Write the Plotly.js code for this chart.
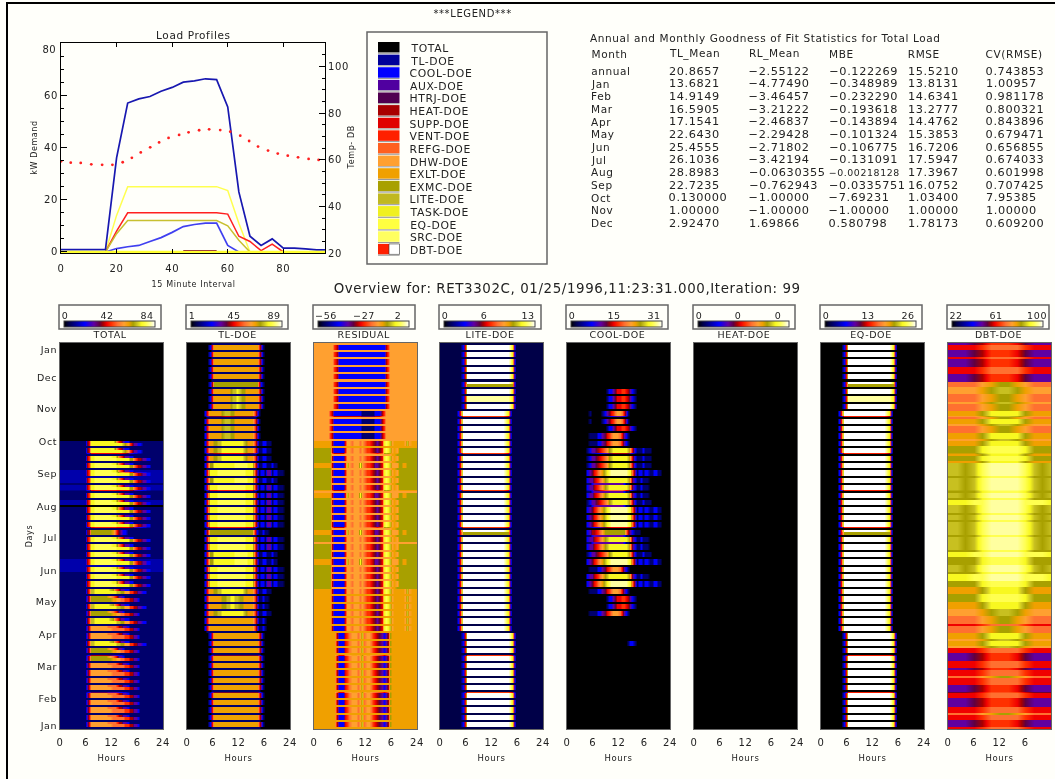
<!DOCTYPE html>
<html>
<head>
<meta charset="utf-8">
<script src="https://cdn.plot.ly/plotly-3.0.1.min.js"></script>
<style>
html,body{margin:0;padding:0;background:#fffffa;overflow:hidden}
#chart{filter:blur(0.35px)}
#chart svg text{letter-spacing:0.6px}
</style>
</head>
<body>
<div id="chart" style="width:1055px;height:779px"></div>
<script>
// ---------- load profile lines ----------
const hourlyX = [0,4,8,12,16,20,24,28,32,36,40,44,48,52,56,60,64,68,72,76,80,84,88,92,95];
const tlDoe   = [0.9,0.9,0.9,0.9,0.9,36,57,58.6,59.5,61.5,63,65,65.5,66.3,66,55.5,23,6,2.5,5,1.5,1.5,1.2,0.8,0.8];
const coolDoe = [0,0,0,0,0,1.3,2,2.5,4,5.5,7.5,9.7,10.5,11,11,2.5,0,0,0,0,0,0,0,0,0];
const eqDoe   = [0,0,0,0,0,14,25,25,25,25,25,25,25,25,25,23.5,11,0,0,0,0,0,0,0,0];
const ventDoe = [0,0,0,0,0,8,15,15,15,15,15,15,15,15,15,14.5,6,4,0.5,3,0,0,0,0,0];
const liteDoe = [0,0,0,0,0,7,12,12,12,12,12,12,12,12,12,10,4.5,0,0,0,0,0,0,0,0];
const heatX   = [44,56];
const heatDoe = [0.4,0.4];
const baseX   = [0,95];
const srcDoe  = [0,0];
const dbtX = [0,3.5,7.1,10.9,14.8,18.5,22.2,25.5,28.7,32.1,35.3,38.7,42.5,45.9,49.7,53.3,57.3,60.9,64.5,67.7,70.9,74.5,78,81.6,85.3,89.1,92.7];
const dbtDoe = [59.3,58.7,58.6,58,57.8,57.8,58.9,60.8,63.1,65.3,67.4,69.3,70.6,71.7,72.6,73,72.7,72,70.3,68,65.6,63.9,62.6,61.7,61,60.3,59.9];

// ---------- legend ----------
const legendNames = ['TOTAL','TL-DOE','COOL-DOE','AUX-DOE','HTRJ-DOE','HEAT-DOE','SUPP-DOE','VENT-DOE','REFG-DOE','DHW-DOE','EXLT-DOE','EXMC-DOE','LITE-DOE','TASK-DOE','EQ-DOE','SRC-DOE','DBT-DOE'];
const legendColors = ['#000000','#000099','#0000ff','#5000a0','#500050','#a80000','#e00000','#ff2000','#ff6020','#ffa030','#f0a000','#a8a000','#c0b820','#f0f020','#ffff40','#ffff60','#ff2000'];

// ---------- statistics table ----------
const monthRows = ['annual','Jan','Feb','Mar','Apr','May','Jun','Jul','Aug','Sep','Oct','Nov','Dec'];
const tlMean = ['20.8657','13.6821','14.9149','16.5905','17.1541','22.6430','25.4555','26.1036','28.8983','22.7235','0.130000','1.00000','2.92470'];
const rlMean = ['−2.55122','−4.77490','−3.46457','−3.21222','−2.46837','−2.29428','−2.71802','−3.42194','−0.0630355','−0.762943','−1.00000','−1.00000','1.69866'];
const mbe = ['−0.122269','−0.348989','−0.232290','−0.193618','−0.143894','−0.101324','−0.106775','−0.131091','−0.00218128','−0.0335751','−7.69231','−1.00000','0.580798'];
const rmse = ['15.5210','13.8131','14.6341','13.2777','14.4762','15.3853','16.7206','17.5947','17.3967','16.0752','1.03400','1.00000','1.78173'];
const cvRmse = ['0.743853','1.00957','0.981178','0.800321','0.843896','0.679471','0.656855','0.674033','0.601998','0.707425','7.95385','1.00000','0.609200'];

// ---------- heat map panels ----------
const panelNames = ['TOTAL','TL-DOE','RESIDUAL','LITE-DOE','COOL-DOE','HEAT-DOE','EQ-DOE','DBT-DOE'];
const barLow  = [0,1,-56,0,0,0,0,22];
const barMid  = [42,45,-27,6,15,0,13,61];
const barHigh = [84,89,2,13,31,0,26,100];
const barLabelOffsets = [[5,47,87],[4.7,47,87],[11.5,50,83.7],[5,44,87.7],[5,47,87],[5,43.7,83.7],[5,46.7,86.7],[7.7,48,89]];
const monthTicks = [2.8,28.4,58.6,88.9,120,149.4,180.6,209.9,241.1,271.4,302.6,331.9,358.4];
const monthLabels = ['Jan','Feb','Mar','Apr','May','Jun','Jul','Aug','Sep','Oct','Nov','Dec','Jan'];
const hourTicks = [0,6,12,18,24];
const hourLabels = ['0','6','12','6','24'];
const halfHours = [0.25,0.75,1.25,1.75,2.25,2.75,3.25,3.75,4.25,4.75,5.25,5.75,6.25,6.75,7.25,7.75,8.25,8.75,9.25,9.75,10.25,10.75,11.25,11.75,12.25,12.75,13.25,13.75,14.25,14.75,15.25,15.75,16.25,16.75,17.25,17.75,18.25,18.75,19.25,19.75,20.25,20.75,21.25,21.75,22.25,22.75,23.25,23.75];
const twoHours = [0,2,4,6,8,10,12,14,16,18,20,22,24];

// colour levels: 0 black ... g white
const levelSeq = ['0','n','1','m','2','3','4','5','6','7','8','9','a','b','c','d','e','f','g'];
const levelPos = [0,0.055,0.09,0.15,0.23,0.33,0.39,0.43,0.47,0.52,0.59,0.66,0.71,0.76,0.80,0.85,0.90,0.95,1];
const levelMap = {};
levelSeq.forEach((c,i)=>levelMap[c]=levelPos[i]);
const idlScale = [[0,'#000000'],[0.055,'#000048'],[0.09,'#00006c'],[0.23,'#0000ff'],[0.33,'#6000a0'],[0.39,'#600040'],[0.43,'#a80000'],[0.47,'#f00000'],[0.52,'#ff3000'],[0.59,'#ff7030'],[0.66,'#ffa030'],[0.71,'#f0a000'],[0.76,'#a8a000'],[0.80,'#c8c020'],[0.85,'#f8f820'],[0.90,'#ffff50'],[0.95,'#ffffa0'],[1,'#ffffff']];

// Each row is one day profile in half-hour columns, written as colour level[:run];
// the last level carries on to the end of the day. Weeks run from the top of the panel (0) to the bottom (51).
const totalRows = {
  a:'0', A:'0', n:'1', l:'m',
  b:'1:12 3 6 9:10 8:6 7 7 5 5 3 3 2 1',        B:'1:12 3 6 9:8 8:4 7 5 5 3 3 2 1',
  c:'1:12 3 6 b:10 a:2 9:2 8:2 7 7 5 5 3 3 2 1', C:'1:12 3 6 b:8 a 9 8 7 5 3 3 2 1',
  d:'1:12 4 7 c:2 d:10 c:2 b:2 9:2 7 7 5 5 3 3 2 2 1', D:'1:12 4 7 c:2 d:7 c b 8 7 5 3 3 2 2 1',
  e:'m:12 5 7 d:2 e:10 d:6 b:2 8 7 5 5 3 3 2 2 m', E:'m:12 5 7 d:2 e:8 d:2 b 8 7 5 3 3 2 2 m',
  f:'1:12 5 7 d:2 e:10 d:6 b:2 8 7 5 5 3 3 2 2 1', F:'1:12 5 7 d:2 e:8 d:2 b 8 7 5 3 3 2 2 1',
  g:'1:12 4 6 d:15 c b 9 7 5 3 3 2 2 1',         G:'1:12 4 6 d:11 b 8 6 5 3 2 2 1',
  h:'1:12 4 5 b:10 a 8 6 4 3 2 2 1',             H:'1:12 4 5 b:10 a 8 6 4 3 2 2 1'};
const totalWeeks    = 'aaaaaaaaaaaaa'+'ggffeeefefffhff'+'feeffdcdcdb'+'bdccbbbbbbbbb';
const totalWeeksTop = 'AAAAAAAAAAAAA'+'GGFFEEEFEFFFHFF'+'FEEFFDCDCDB'+'BDCCBBBBBBBBB';
const totalGaps     = 'aaaaaaaaaaaaa'+'nnnnlnnn'+'a'+'nnnnnnn'+'l'+'nnnnnnnnnnnnnnnnnnnnnn';

const tlRows = {
  A:'0:10 2 6 a:21 7 3 1 0',
  B:'0:10 2 6 a:8 b c c d c b b a:6 7 3 1 0',
  C:'0:10 2 5 b:21 6 2 1 0',
  D:'0:8 2 6 a:6 b c:3 b:2 a:9 7 3 1 0',
  E:'0:8 2 6 a:2 b:2 c:2 d:10 c b a:3 7 3 1 1 2 2 1 1 0',
  F:'0:8 2 6 d:4 e:13 d:4 7 3 1 2 2 1 3 3 1 2 2 1 1 1 0',
  G:'0:8 2 6 b:2 d:10 e:6 d:3 7 3 1 1 2 2 1 1 2 1 1 0',
  H:'0:8 2 5 b:21 6 2 1 1 2 1 1 0',
  I:'0:8 2 6 a:6 b:2 c:2 d:2 c:2 b:2 a:5 7 3 1 1 2 1 1 0',
  J:'0:8 2 6 a:21 7 3 1 1 2 1 0',
  w:'0:11 1:23 0', s:'0:9 1:23 0'};
const tlWeeks = 'AAAAACBBB'+'DDDDEEEGFGFFFFFFHFFGGFFFEIIEJJ'+'AAAAAAAAAAAAA';
const tlGaps  = 'wwwwwwwww'+'ssssssssssssssssssssssssssssss'+'wwwwwwwwwwwww';

const residualRows = {
  A:'9:9 7 5 2:22 5 7 9',
  B:'9:7 7 5 2:13 1:6 2:3 5 7 9',
  C:'b:8 5 2:5 6 9:2 8 9:3 8 9 8 7 7 6 5 4 3 4 6 d e d c 9 a 9 b',
  K:'a:8 5 2:5 6 c 9 8 9:3 d 9 8 7 7 6 5 3 3 4 6 d e d c 9 9 9 b:2 a:2 b',
  D:'a:8 5 2:5 6 9:2 8 9:3 8 9 8 7 7 6 5 4 3 4 6 d e d c 9 a:5 9 c 9 a',
  E:'a:10 5 2:3 6 7 8 9:3 8 9 c 8 9:2 8 7 6 5 4 3 2 3 5 b a',
  o:'b:8 9:28 a:2 b', p:'a', q:'9'};
const residualWeeks = 'AAAAAAAAA'+'BBBB'+'D'+'CCKCCCKCCCCKCCCKCCC'+'DDDDDD'+'EEEEEEEEEEEEE';
const residualGaps  = 'qqqqqqqqqqqqq'+'p'+'oooooqooooooqoooooo'+'pppppp'+'ppppppppppppp';

const liteRows = {
  W:'n:10 2 6 g:20 f d 3 n', S:'n:8 2 6 g:20 f d 3 n',
  H:'n:10 2 6 b:22 3 n',     T:'n:8 2 6 b:22 3 n',
  I:'n:10 2 6 f:20 e d 3 n', n:'n'};
const liteWeeks    = 'WWWWWHWIW'+'SSSSSSSSSSSSSSSS'+'T'+'SSSSSSSSSSSSS'+'WWWWWWWWWWWWW';
const liteWeeksTop = 'WWWWWWWIW'+'SSSSSSSSSSSSSSSS'+'S'+'SSSSSSSSSSSSS'+'WWWWWWWWWWWWW';
const liteGaps     = 'nnnnnnnnnnnnnnnnnnnnnnnnnnnnnnnnnnnnnnnnnnnnnnnnnnnn';

const coolRows = {
  A:'0',
  B:'0:18 1 2 2 3 4 6 6 7 7 6 5 3 2 1 0',
  C:'0:10 1 0:5 1 2 3 4 6 7 8 9 9 8 6 3 1 0',
  D:'0:10 1:4 2:2 3 4 6 7 8 9 9 9 8 6 3 2 1 0',
  E:'0:9 1 2 3 3 4 5 6 7 8 9 b c d:7 c 9 6 2 1 1 1 2 1 1 1 0',
  F:'0:9 2 3 4 6 7 8 9 a c d e f:8 e d 8 3 1 2 2 1 2 2 1 1 2 2 1 1 0',
  G:'0:9 2 3 3 5 6 7 8 9 b c d:9 c 9 4 2 1 1 2 1 1 1 0',
  H:'0:9 2 3 5 5 6 7 8 9 b:10 8 5 3 2 1 1 1 0',
  L:'0:28 1 2 2 1 0',
  s:'0:9 1:2 2 3:14 2 1:2 0'};
const coolWeeks = 'AAAAAA'+'BBB'+'CC'+'B'+'DD'+'EEE'+'F'+'GGG'+'E'+'FFF'+'H'+'GG'+'E'+'F'+'D'+'G'+'F'+'D'+'BB'+'D'+'AAA'+'L'+'AAAAAAAAAAA';
const coolGaps  = 'AAAAAAAAAAAAAAAAAA'+'ss'+'A'+'s'+'AAA'+'ss'+'AAAAAAAAAAAAAAAAAAAAAAAAA';

const heatRows = {A:'0'};
const heatWeeks = 'AAAAAAAAAAAAAAAAAAAAAAAAAAAAAAAAAAAAAAAAAAAAAAAAAAAA';
const heatGaps  = heatWeeks;

const eqRows = {
  W:'0:10 2 6 g:20 f d 3 0', S:'0:8 2 6 g:20 f d 3 0',
  H:'0:10 2 6 b:22 3 0',     T:'0:8 2 6 b:22 3 0',
  I:'0:10 2 6 f:20 e d 3 0', A:'0'};
const eqWeeks    = 'WWWWWHWIW'+'SSSSSSSSSSSSSSSS'+'T'+'SSSSSSSSSSSSS'+'WWWWWWWWWWWWW';
const eqWeeksTop = 'WWWWWWWIW'+'SSSSSSSSSSSSSSSS'+'S'+'SSSSSSSSSSSSS'+'WWWWWWWWWWWWW';
const eqGaps     = 'AAAAAAAAAAAAAAAAAAAAAAAAAAAAAAAAAAAAAAAAAAAAAAAAAAAA';

// the outdoor temperature panel is read every two hours
const dbtRows = {
  1:'3 3 3 4 5 7 7 7 6 4 3 3 3',
  2:'6 6 6 6 7 8 8 8 8 7 6 6 6',
  3:'8 8 8 8 9 a b b a 9 8 8 8',
  4:'9 9 9 9 a b c c b a 9 9 9',
  5:'a a a a b d d d d b a a a',
  6:'b b b b d e e e e d b b b',
  7:'c c b c e f f f f e c b c',
  8:'d d d e e f f f f e e e d'};
const dbtWeeks = '2112134335'+'5355667777'+'7877777786'+'7865654335'+'521222121221';
const dbtGaps  = '1212143433'+'4346557676'+'6766767667'+'6856543234'+'412132111312';

const panelRows  = [totalRows,tlRows,residualRows,liteRows,coolRows,heatRows,eqRows,dbtRows];
const panelWeeks = [totalWeeks,tlWeeks,residualWeeks,liteWeeks,coolWeeks,heatWeeks,eqWeeks,dbtWeeks];
const panelWeeksTop = [totalWeeksTop,tlWeeks,residualWeeks,liteWeeksTop,coolWeeks,heatWeeks,eqWeeksTop,dbtWeeks];
const panelGaps  = [totalGaps,tlGaps,residualGaps,liteGaps,coolGaps,heatGaps,eqGaps,dbtGaps];
const panelHours = [halfHours,halfHours,halfHours,halfHours,halfHours,halfHours,halfHours,twoHours];

// ---------- page geometry ----------
const W = 1055, H = 779;
const X = p => p / W, Y = p => 1 - p / H;
const panelLeft = [60,187,314,440,567,694,821,948];
const panelWidth = 103, panelTop = 343, panelBottom = 729;
const inkColor = '#222222', faceFont = 'DejaVu Sans, sans-serif';
const spacing = 0.6; // matches the letter-spacing in the style sheet

function note(text,x,y,size,anchor,rotate){
  const a = anchor||'left';
  // plotly measures text without the extra letter spacing, so it grows from the middle
  const shift = (String(text).length*spacing/2)*(a==='left'?1:a==='right'?-1:0);
  return {text:text,x:X(x+shift),y:Y(y),xref:'paper',yref:'paper',showarrow:false,xanchor:a,yanchor:'middle',
          textangle:rotate||0,font:{family:faceFont,size:size,color:inkColor},borderpad:0};
}
function box(x0,y0,x1,y1,fill,line,width){
  return {type:'rect',xref:'paper',yref:'paper',x0:X(x0),x1:X(x1),y0:Y(y0),y1:Y(y1),
          fillcolor:fill||'rgba(0,0,0,0)',line:{color:line||'rgba(0,0,0,0)',width:width===undefined?1:width}};
}
function expandRow(code,n){
  const out = [];
  code.trim().split(/\s+/).forEach(tok=>{
    const parts = tok.split(':');
    const run = parts[1] ? +parts[1] : 1;
    for(let i=0;i<run;i++) out.push(parts[0]);
  });
  while(out.length<n) out.push(out[out.length-1]);
  return out.slice(0,n);
}

// ---------- traces ----------
const lineStyle = (x,y,color,width)=>({type:'scatter',mode:'lines',x:x,y:y,xaxis:'x',yaxis:'y',line:{color:color,width:width||1.5,simplify:false},hoverinfo:'skip',showlegend:false});
const traces = [
  lineStyle(hourlyX,eqDoe,'#ffff50',1.5),
  lineStyle(hourlyX,ventDoe,'#ff2020',1.5),
  lineStyle(hourlyX,liteDoe,'#c8c030',1.5),
  lineStyle(hourlyX,coolDoe,'#4040f0',1.7),
  lineStyle(hourlyX,tlDoe,'#1818b0',1.7),
  lineStyle(heatX,heatDoe,'#800040',2),
  lineStyle(baseX,srcDoe,'#ffff30',2.5),
  {type:'scatter',mode:'markers',x:dbtX,y:dbtDoe,xaxis:'x',yaxis:'y2',marker:{color:'#ff2020',size:2.8},hoverinfo:'skip',showlegend:false}
];

const layout = {
  width:W,height:H,margin:{l:0,r:0,t:0,b:0},autosize:false,showlegend:false,
  paper_bgcolor:'#fffffa',plot_bgcolor:'#fffffa',font:{family:faceFont,size:10,color:inkColor},
  xaxis:{domain:[X(61),X(325)],range:[0,95],anchor:'y',tickvals:[0,20,40,60,80],ticks:'inside',ticklen:4,tickcolor:'#000',
         showline:true,linecolor:'#000',linewidth:1,mirror:'ticks',showgrid:false,zeroline:false,ticklabelstandoff:6,tickfont:{size:10}},
  yaxis:{domain:[Y(253),Y(43)],range:[-0.4,80],anchor:'x',tickvals:[0,20,40,60],ticks:'inside',ticklen:6,tickcolor:'#000',
         minor:{dtick:5,ticks:'inside',ticklen:3,tickcolor:'#000'},showline:true,linecolor:'#000',linewidth:1,showgrid:false,zeroline:false,tickfont:{size:10}},
  yaxis2:{domain:[Y(253),Y(43)],range:[20,110],overlaying:'y',side:'right',anchor:'x',tickvals:[20,40,60,80,100],ticks:'inside',ticklen:6,tickcolor:'#000',
         minor:{dtick:5,ticks:'inside',ticklen:3,tickcolor:'#000'},showline:true,linecolor:'#000',linewidth:1,showgrid:false,zeroline:false,tickfont:{size:10}},
  shapes:[],annotations:[]
};

const shapes = layout.shapes, notes = layout.annotations;
// frame of the picture
shapes.push(box(6,2,W,4,'#000000',null,0));
shapes.push(box(6,2,8,H,'#000000',null,0));

// titles and top plot labels
notes.push(note('***LEGEND***',472,13,10,'center'));
notes.push(note('Load Profiles',193,35,10.5,'center'));
notes.push(note('15 Minute Interval',193,284,8,'center'));
notes.push(note('kW Demand',35,148,8,'center',-90));
notes.push(note('Temp- DB',352,148,8,'center',-90));
notes.push(note('80',58,50,10,'right'));
notes.push(note('Overview for: RET3302C, 01/25/1996,11:23:31.000,Iteration: 99',333,288,13.4));
notes.push(note('Days',29,536,8,'center',-90));

// legend box
shapes.push(box(367,32,547,264,null,'#666666',1.5));
legendNames.forEach((name,i)=>{
  const top = 42 + 12.62*i;
  if(name==='DBT-DOE'){
    shapes.push(box(378,top,389,top+10.5,legendColors[i],null,0));
    shapes.push(box(389,top,399.5,top+10.5,'#ffffff','#333333',0.6));
  } else {
    shapes.push(box(378,top,399.5,top+10.5,legendColors[i],null,0));
  }
  shapes.push(box(378,top+10.7,399.5,top+11.8,'#999999',null,0));
  notes.push(note(name,409,top+6.5,10.8));
});

// statistics table
notes.push(note('Annual and Monthly Goodness of Fit Statistics for Total Load',589,38,10.5));
const colX = [590,668,748,828,907,985];
['Month','TL_Mean','RL_Mean','MBE','RMSE','CV(RMSE)'].forEach((t,i)=>notes.push(note(t,colX[i],54,10.5)));
[monthRows,tlMean,rlMean,mbe,rmse,cvRmse].forEach((col,c)=>{
  col.forEach((t,r)=>notes.push(note(t,colX[c],71+12.67*r,c===0?10.5:(t.length>10?9.4:11.3))));
});

// heat map panels
panelNames.forEach((name,p)=>{
  const rows = panelRows[p], weeks = panelWeeks[p], weeksTop = panelWeeksTop[p], gaps = panelGaps[p];
  const left = panelLeft[p], columns = panelHours[p];
  const low = barLow[p], top = low + ((barHigh[p]-low)/0.91 || 1);
  const decode = k => expandRow(rows[k],columns.length).map(c=>low+levelMap[c]*(top-low));
  const z = [], y = [];
  for(let t=51;t>=0;t--){
    const g = decode(gaps[t]), a = decode(weeks[t]), b = decode(weeksTop[t]);
    z.push(g,g,a,a,a,b,b);
  }
  z.push(decode(gaps[0]),decode(gaps[0]));
  z.forEach((_,r)=>y.push(r+0.5));
  const xa = 'x'+(p+2), ya = 'y'+(p+3);
  traces.push({type:'heatmap',x:columns,y:y,z:z,xaxis:xa,yaxis:ya,zmin:low,zmax:top,zsmooth:'best',colorscale:idlScale,hoverinfo:'skip',
    colorbar:{orientation:'h',lenmode:'pixels',len:91,thicknessmode:'pixels',thickness:6,x:X(left+4),xanchor:'left',y:Y(321),yanchor:'top',
              xpad:0,ypad:0,ticks:'',showticklabels:false,outlinecolor:'#444444',outlinewidth:1,borderwidth:0,bgcolor:'rgba(0,0,0,0)'}});
  layout['xaxis'+(p+2)] = {domain:[X(left),X(left+panelWidth)],range:[0,24],anchor:'y'+(p+3),tickvals:hourTicks,ticktext:hourLabels,ticks:'',
    showline:true,linecolor:'#666666',linewidth:1,mirror:true,showgrid:false,zeroline:false,ticklabelstandoff:4,tickfont:{size:10},
    title:{text:'Hours',font:{size:8.5},standoff:8}};
  layout['yaxis'+(p+3)] = {domain:[Y(panelBottom),Y(panelTop)],range:[0,365],anchor:'x'+(p+2),ticks:'',
    showline:true,linecolor:'#666666',linewidth:1,mirror:true,showgrid:false,zeroline:false,
    tickvals:p===0?monthTicks:[],ticktext:p===0?monthLabels:[],showticklabels:p===0,tickfont:{size:9.5}};
  shapes.push(box(left-1,305,left+101,329,null,'#666666',1.5));
  const off = barLabelOffsets[p];
  [barLow[p],barMid[p],barHigh[p]].forEach((v,i)=>{
    notes.push(note(String(v).replace('-','−'),left+off[i],316,9.5,'center'));
  });
  notes.push(note(name,left+50,335,9.5,'center'));
});

Plotly.newPlot('chart',traces,layout,{displayModeBar:false,responsive:false});
</script>
</body>
</html>
